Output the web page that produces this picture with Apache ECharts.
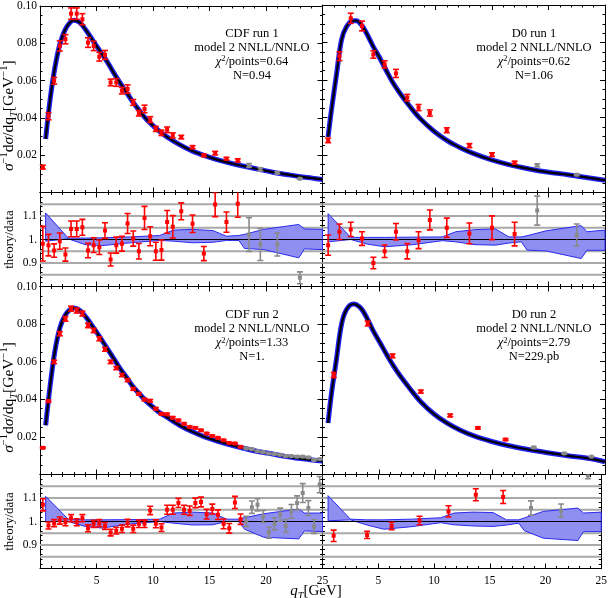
<!DOCTYPE html>
<html><head><meta charset="utf-8">
<script src="https://cdn.jsdelivr.net/npm/echarts@6/dist/echarts.min.js"></script>
<style>html,body{margin:0;padding:0;background:#fff}#c{width:610px;height:598px}</style>
</head><body><div id="c"></div>
<script>
// ================= DATA =================
const xTickLabels = [5, 10, 15, 20, 25];
const mainYTickLabels = [0.02, 0.04, 0.06, 0.08, 0.10];
const ratioYTickLabels = [0.9, 1.0, 1.1];
const ratioGridLevels = [0.85, 0.9, 0.95, 1.05, 1.1, 1.15];

const panelTitles = ["CDF run 1", "D0 run 1", "CDF run 2", "D0 run 2"];
const panelModel = ["model 2 NNLL/NNLO", "model 2 NNLL/NNLO", "model 2 NNLL/NNLO", "model 2 NNLL/NNLO"];
const panelChi2 = ["0.64", "0.62", "1.33", "2.79"];
const panelNorm = ["N=0.94", "N=1.06", "N=1.", "N=229.pb"];

// theory curves (main panels)
const cdfCurveQt = [0.5,0.88,1.32,1.76,2.2,2.65,3.0,3.53,4.12,4.7,5.3,5.9,6.5,7.06,7.65,8.24,8.8,9.4,10,10.6,11.2,12.35,13.5,14.7,15.9,17.06,18.2,19.4,20.6,21.8,22.9,24.1,25];
const cdf1Curve = [0.0287,0.0492,0.0670,0.0795,0.0870,0.0911,0.0923,0.0911,0.0866,0.0813,0.0759,0.0706,0.0644,0.0590,0.0537,0.0483,0.0439,0.0394,0.0359,0.0327,0.0300,0.0257,0.0222,0.0195,0.0172,0.0154,0.0139,0.0124,0.0109,0.0097,0.0086,0.0077,0.0070];
const cdf2Curve = [0.0262,0.0464,0.0657,0.0780,0.0845,0.0877,0.0886,0.0872,0.0833,0.0784,0.0731,0.0675,0.0619,0.0566,0.0517,0.0467,0.0429,0.0390,0.0358,0.0328,0.0306,0.0262,0.0227,0.0197,0.0174,0.0154,0.0137,0.0121,0.0109,0.0095,0.0086,0.0077,0.0072];
const d0CurveQt = [0.49,0.79,1.23,1.68,2.12,2.72,3.0,3.46,3.9,4.5,5.09,5.7,6.28,6.87,7.76,8.65,9.84,11.0,12.2,13.4,14.9,16.4,18.2,19.9,21.7,23.5,25];
const d01Curve = [0.0296,0.0439,0.0626,0.0813,0.0884,0.0916,0.0916,0.0893,0.0849,0.0777,0.0715,0.0644,0.0581,0.0528,0.0457,0.0394,0.0328,0.0278,0.0239,0.0207,0.0175,0.0150,0.0127,0.0109,0.0095,0.0079,0.0065];
const d02Curve = [0.0274,0.0429,0.0612,0.0798,0.0877,0.0907,0.0903,0.0880,0.0836,0.0763,0.0701,0.0636,0.0578,0.0525,0.0455,0.0390,0.0323,0.0274,0.0235,0.0205,0.0177,0.0154,0.0133,0.0116,0.0100,0.0086,0.0068];

// measured points (first grayFrom points red, rest gray)
const cdf1Qt = [0.25,0.75,1.25,1.75,2.25,2.75,3.25,3.75,4.25,4.75,5.25,5.75,6.25,6.75,7.25,7.75,8.25,8.75,9.25,9.75,10.25,10.75,11.25,11.75,12.5,13.5,14.5,15.5,16.5,17.5,18.5,19.5,21,23];
const cdf1Val = [0.0136,0.0409,0.0599,0.0786,0.0822,0.0959,0.0959,0.0929,0.0804,0.0786,0.0728,0.0738,0.0590,0.0590,0.0546,0.0555,0.0483,0.0425,0.0448,0.0391,0.0341,0.0320,0.0336,0.0306,0.0297,0.0243,0.0199,0.0211,0.0181,0.0172,0.0145,0.0124,0.0106,0.0074];
const cdf1Ratio = [0.982,0.976,0.953,0.993,0.936,1.045,1.045,1.052,0.953,0.976,0.967,1.038,0.915,0.976,0.982,1.068,1.004,0.95,1.092,1.014,0.95,0.955,1.075,1.054,1.12,1.067,0.94,1.149,1.074,1.152,1.021,0.979,0.979,0.837];
const cdf1RelErr = [0.075,0.047,0.03,0.035,0.03,0.032,0.032,0.032,0.032,0.032,0.032,0.032,0.03,0.035,0.032,0.04,0.032,0.035,0.045,0.04,0.04,0.045,0.045,0.045,0.032,0.035,0.032,0.045,0.04,0.05,0.07,0.07,0.05,0.03];
const cdf1GrayFrom = 30;

const d01Qt = [0.5,1.5,2.5,3.5,4.5,5.5,6.5,7.5,8.5,9.5,11,13,15,17,19,22.5];
const d01Val = [0.0278,0.0727,0.0929,0.0888,0.0736,0.0683,0.0635,0.0506,0.0453,0.0424,0.0332,0.0250,0.0202,0.0159,0.0145,0.0095];
const d01Ratio = [0.976,1.033,1.043,1.004,0.90,0.95,1.033,0.95,0.997,1.083,1.05,1.026,1.05,1.023,1.123,1.019];
const d01RelErr = [0.044,0.032,0.029,0.029,0.027,0.028,0.034,0.034,0.036,0.039,0.039,0.043,0.048,0.049,0.055,0.046];
const d01GrayFrom = 14;

const cdf2Qt = [0.25,0.75,1.25,1.75,2.25,2.75,3.25,3.75,4.25,4.75,5.25,5.75,6.25,6.75,7.25,7.75,8.25,8.75,9.25,9.75,10.25,10.75,11.25,11.75,12.25,12.75,13.25,13.75,14.25,14.75,15.25,15.75,16.25,16.75,17.25,17.75,18.25,18.75,19.25,19.75,20.25,20.75,21.25,21.75,22.25,22.75,23.25,23.75,24.25,24.75];
const cdf2Val = [0.0142,0.0390,0.0599,0.0749,0.0828,0.0882,0.0872,0.0856,0.0793,0.0766,0.0722,0.0666,0.0599,0.0566,0.0529,0.0502,0.0455,0.0429,0.0399,0.0392,0.0350,0.0323,0.0320,0.0302,0.0288,0.0270,0.0253,0.0248,0.0235,0.0218,0.0205,0.0195,0.0182,0.0168,0.0165,0.0147,0.0139,0.0135,0.0124,0.0119,0.0112,0.0109,0.0105,0.0098,0.0098,0.0095,0.0095,0.0091,0.0077,0.0082];
const cdf2Ratio = [1.071,0.983,0.993,1.004,0.997,1.014,0.997,1.014,0.971,0.99,0.993,0.981,0.953,0.961,0.969,0.993,0.969,0.99,0.99,1.047,0.99,0.974,1.05,1.05,1.079,1.05,1.046,1.079,1.083,1.031,1.053,1.029,0.99,0.971,1.081,1.01,1.0,1.061,1.071,1.021,0.953,0.99,1.029,0.981,1.043,1.079,1.121,1.057,0.979,1.157];
const cdf2RelErr = [0.024,0.015,0.015,0.015,0.015,0.015,0.015,0.015,0.015,0.015,0.015,0.015,0.015,0.015,0.016,0.016,0.016,0.016,0.016,0.017,0.017,0.017,0.018,0.018,0.018,0.018,0.019,0.019,0.019,0.02,0.02,0.02,0.021,0.021,0.024,0.022,0.022,0.025,0.024,0.025,0.025,0.026,0.027,0.028,0.028,0.028,0.036,0.03,0.03,0.03];
const cdf2GrayFrom = 36;

const d02Qt = [1.0,4.0,6.2,8.7,11.3,13.75,16.2,18.7,21.4,23.8];
const d02Val = [0.0529,0.0803,0.0631,0.0441,0.0314,0.0248,0.0186,0.0144,0.0112,0.0095];
const d02Ratio = [0.939,0.943,0.981,1.004,1.043,1.114,1.104,1.057,1.047,1.196];
const d02RelErr = [0.026,0.016,0.016,0.018,0.023,0.023,0.025,0.029,0.026,0.012];
const d02GrayFrom = 7;

// theory uncertainty bands (ratio panels)
const bandQt = [0.5,2.5,4,5.5,8,10.6,11.8,13.5,15.3,16.5,17.6,18.1,19.8,22.9,23.4,25];
const cdf1BandUp = [1.113,1.006,1.006,1.007,1.011,1.017,1.04,1.043,1.038,1.014,1.017,1.022,1.043,1.064,1.045,1.043];
const cdf1BandLo = [0.993,1.003,0.978,0.974,0.986,0.996,0.993,0.986,0.988,0.996,0.996,0.962,0.957,0.922,0.96,0.957];
const d01BandUp = [1.11,1.009,1.009,1.009,1.01,1.011,1.033,1.042,1.045,1.011,1.011,1.016,1.037,1.059,1.033,1.04];
const d01BandLo = [0.99,1.0,0.98,0.969,0.978,0.995,0.99,0.978,0.976,0.985,0.99,0.955,0.951,0.919,0.954,0.954];
const cdf2BandUp = [1.107,1.01,1.007,1.007,1.008,1.01,1.036,1.04,1.036,1.01,1.01,1.016,1.033,1.053,1.036,1.036];
const cdf2BandLo = [1.0,1.0,0.979,0.972,0.99,1.0,0.993,0.985,0.986,1.0,1.0,0.967,0.933,0.926,0.96,0.957];
const d02BandUp = [1.11,1.01,1.007,1.007,1.01,1.016,1.036,1.04,1.038,1.007,1.007,1.015,1.043,1.057,1.036,1.04];
const d02BandLo = [1.003,1.007,0.985,0.967,0.978,0.995,0.986,0.981,0.979,0.985,0.993,0.961,0.929,0.919,0.957,0.957];

// ================= CHART =================
const FONT = "'Liberation Serif','DejaVu Serif',serif";
const X_MIN = 0, X_MAX = 25;
const datasets = [
  {curveQt: cdfCurveQt, curve: cdf1Curve, qt: cdf1Qt, val: cdf1Val, ratio: cdf1Ratio, err: cdf1RelErr, gray: cdf1GrayFrom, up: cdf1BandUp, lo: cdf1BandLo},
  {curveQt: d0CurveQt, curve: d01Curve, qt: d01Qt, val: d01Val, ratio: d01Ratio, err: d01RelErr, gray: d01GrayFrom, up: d01BandUp, lo: d01BandLo},
  {curveQt: cdfCurveQt, curve: cdf2Curve, qt: cdf2Qt, val: cdf2Val, ratio: cdf2Ratio, err: cdf2RelErr, gray: cdf2GrayFrom, up: cdf2BandUp, lo: cdf2BandLo},
  {curveQt: d0CurveQt, curve: d02Curve, qt: d02Qt, val: d02Val, ratio: d02Ratio, err: d02RelErr, gray: d02GrayFrom, up: d02BandUp, lo: d02BandLo}
];

const colL = 40, colM = 322.5, colR = 605;
const rows = [ {top: 5, h: 187.5}, {top: 192.5, h: 94}, {top: 286.5, h: 188}, {top: 474.5, h: 94} ];
const grids = [], xAxes = [], yAxes = [], series = [], graphics = [];

function near(a, b) { return Math.abs(a - b) < 1e-6; }
function xFmt(v) { return xTickLabels.some(t => near(t, v)) ? String(Math.round(v)) : ''; }
function mainYFmt(v) { return mainYTickLabels.some(t => near(t, v)) ? v.toFixed(2) : ''; }
function ratioYFmt(v) {
  if (!ratioYTickLabels.some(t => near(t, v))) return '';
  return near(v, 1) ? '1.' : v.toFixed(1);
}

function errRender(params, api) {
  const x = api.value(0), y = api.value(1), e = api.value(2), g = api.value(3);
  const c = api.coord([x, y]), t = api.coord([x, y + e]), b = api.coord([x, y - e]);
  const col = g ? '#8a8a8a' : '#ff0000';
  const st = {stroke: col, lineWidth: 1.6};
  return {type: 'group', children: [
    {type: 'line', shape: {x1: c[0], y1: t[1], x2: c[0], y2: b[1]}, style: st},
    {type: 'line', shape: {x1: c[0] - 3, y1: t[1], x2: c[0] + 3, y2: t[1]}, style: st},
    {type: 'line', shape: {x1: c[0] - 3, y1: b[1], x2: c[0] + 3, y2: b[1]}, style: st},
    {type: 'rect', shape: {x: c[0] - 2, y: c[1] - 2, width: 4, height: 4}, style: {fill: col}}
  ]};
}

function addAxes(g, isRatio, showXLabels, showYLabels) {
  const tickStyle = {color: '#000', width: 1};
  const base = {
    type: 'value', gridIndex: g, min: X_MIN, max: X_MAX, interval: 5,
    axisLine: {show: true, onZero: false, lineStyle: {color: '#000', width: 1}},
    axisTick: {show: true, inside: true, length: 5, lineStyle: tickStyle},
    minorTick: {show: true, splitNumber: 5, length: 2.5, lineStyle: tickStyle},
    splitLine: {show: false}, minorSplitLine: {show: false}
  };
  xAxes.push(Object.assign({}, base, {position: 'bottom',
    axisLabel: {show: showXLabels, formatter: xFmt, fontFamily: FONT, fontSize: 11.5, color: '#000', margin: 6}}));
  xAxes.push(Object.assign({}, base, {position: 'top', axisLabel: {show: false}}));
  const ybase = isRatio ?
    {min: 0.8, max: 1.2, interval: 0.1, minorTick: {show: true, splitNumber: 5, length: 2.5, lineStyle: tickStyle}} :
    {min: 0, max: 0.1, interval: 0.02, minorTick: {show: true, splitNumber: 4, length: 2.5, lineStyle: tickStyle}};
  const yb = Object.assign({
    type: 'value', gridIndex: g,
    axisLine: {show: true, onZero: false, lineStyle: {color: '#000', width: 1}},
    axisTick: {show: true, inside: true, length: 5, lineStyle: tickStyle},
    splitLine: {show: false}, minorSplitLine: {show: false}
  }, ybase);
  yAxes.push(Object.assign({}, yb, {position: 'left',
    axisLabel: {show: showYLabels, formatter: isRatio ? ratioYFmt : mainYFmt, fontFamily: FONT, fontSize: 11.5, color: '#000', margin: 3}}));
  yAxes.push(Object.assign({}, yb, {position: 'right', axisLabel: {show: false}}));
}

datasets.forEach((d, p) => {
  const isLeft = (p % 2 === 0);
  const rowMain = rows[p < 2 ? 0 : 2], rowRatio = rows[p < 2 ? 1 : 3];
  const left = isLeft ? colL : colM, width = isLeft ? (colM - colL) : (colR - colM);
  const gm = 2 * p, gr = 2 * p + 1;
  grids.push({left: left, top: rowMain.top, width: width, height: rowMain.h});
  grids.push({left: left, top: rowRatio.top, width: width, height: rowRatio.h});
  addAxes(gm, false, false, isLeft);
  addAxes(gr, true, p >= 2, isLeft);
  const xm = 2 * gm, xr = 2 * gr;

  const curveData = d.curveQt.map((q, i) => [q, d.curve[i]]);
  series.push({type: 'line', xAxisIndex: xm, yAxisIndex: xm, data: curveData, smooth: 0.35, symbol: 'none',
    lineStyle: {color: '#2020f0', width: 5}, z: 2, silent: true});
  series.push({type: 'line', xAxisIndex: xm, yAxisIndex: xm, data: curveData, smooth: 0.35, symbol: 'none',
    lineStyle: {color: '#000', width: 2.2}, z: 3, silent: true});
  series.push({type: 'custom', xAxisIndex: xm, yAxisIndex: xm, renderItem: errRender, z: 4, silent: true,
    encode: {x: 0, y: 1},
    data: d.qt.map((q, i) => [q, d.val[i], d.val[i] * d.err[i], i >= d.gray ? 1 : 0])});

  series.push({type: 'custom', xAxisIndex: xr, yAxisIndex: xr, z: 1, silent: true, encode: {x: 0, y: 1},
    data: ratioGridLevels.map(l => [X_MIN, l]),
    renderItem: (params, api) => {
      const y = api.value(1);
      const a = api.coord([X_MIN, y]), b = api.coord([X_MAX, y]);
      return {type: 'line', shape: {x1: a[0], y1: a[1], x2: b[0], y2: b[1]}, style: {stroke: '#a9a9a9', lineWidth: 2}};
    }});
  series.push({type: 'custom', xAxisIndex: xr, yAxisIndex: xr, z: 2, silent: true, encode: {x: 0, y: 1},
    data: [[bandQt[0], d.up[0]]],
    renderItem: (params, api) => {
      const pts = [];
      bandQt.forEach((q, i) => pts.push(api.coord([q, d.up[i]])));
      for (let i = bandQt.length - 1; i >= 0; i--) pts.push(api.coord([bandQt[i], d.lo[i]]));
      return {type: 'polygon', shape: {points: pts}, style: {fill: '#8f8ff2', stroke: '#2a2af0', lineWidth: 1}};
    }});
  series.push({type: 'line', xAxisIndex: xr, yAxisIndex: xr, z: 3, silent: true, symbol: 'none',
    data: [[X_MIN, 1], [X_MAX, 1]], lineStyle: {color: '#000', width: 1}});
  series.push({type: 'custom', xAxisIndex: xr, yAxisIndex: xr, renderItem: errRender, z: 4, silent: true,
    encode: {x: 0, y: 1}, clip: true,
    data: d.qt.map((q, i) => [q, d.ratio[i], d.ratio[i] * d.err[i], i >= d.gray ? 1 : 0])});

  graphics.push({type: 'text', x: isLeft ? 252 : 534, y: rowMain.top + 21.5, z: 10, silent: true,
    style: {
      text: panelTitles[p] + '\n' + panelModel[p] + '\n{i|χ}{s|2}/points=' + panelChi2[p] + '\n' + panelNorm[p],
      fontFamily: FONT, fontSize: 12.5, fill: '#000', align: 'center', verticalAlign: 'top', lineHeight: 14,
      rich: {
        i: {fontFamily: FONT, fontSize: 12.5, fontStyle: 'italic', lineHeight: 14, fill: '#000'},
        s: {fontFamily: FONT, fontSize: 8.5, lineHeight: 6, verticalAlign: 'top', fill: '#000'}
      }
    }});
});

function richFor(size) {
  return {
    n: {fontFamily: FONT, fontSize: size, lineHeight: size + 5, fill: '#000'},
    i: {fontFamily: FONT, fontSize: size, fontStyle: 'italic', lineHeight: size + 5, fill: '#000'},
    s: {fontFamily: FONT, fontSize: size * 0.68, lineHeight: size * 0.68, verticalAlign: 'top', fill: '#000'},
    b: {fontFamily: FONT, fontSize: size * 0.68, fontStyle: 'italic', lineHeight: size * 0.68, verticalAlign: 'bottom', fill: '#000'}
  };
}
[rows[0], rows[2]].forEach(r => {
  graphics.push({type: 'text', x: 9, y: r.top + r.h / 2 + 17, rotation: Math.PI / 2, silent: true,
    style: {text: '{i|σ}{s|−1}{n|d}{i|σ}{n|/dq}{b|T}{n|[GeV}{s|−1}{n|]}', rich: richFor(15.5), align: 'center', verticalAlign: 'middle'}});
});
[rows[1], rows[3]].forEach(r => {
  graphics.push({type: 'text', x: 10, y: r.top + r.h / 2, rotation: Math.PI / 2, silent: true,
    style: {text: '{n|theory/data}', rich: richFor(13), align: 'center', verticalAlign: 'middle'}});
});
graphics.push({type: 'text', x: 316, y: 591, silent: true,
  style: {text: '{i|q}{b|T}{n|[GeV]}', rich: richFor(15), align: 'center', verticalAlign: 'middle'}});

const chart = echarts.init(document.getElementById('c'), null, {renderer: 'canvas'});
chart.setOption({
  animation: false,
  backgroundColor: '#fff',
  grid: grids,
  xAxis: xAxes,
  yAxis: yAxes,
  series: series,
  graphic: graphics
});
</script></body></html>
